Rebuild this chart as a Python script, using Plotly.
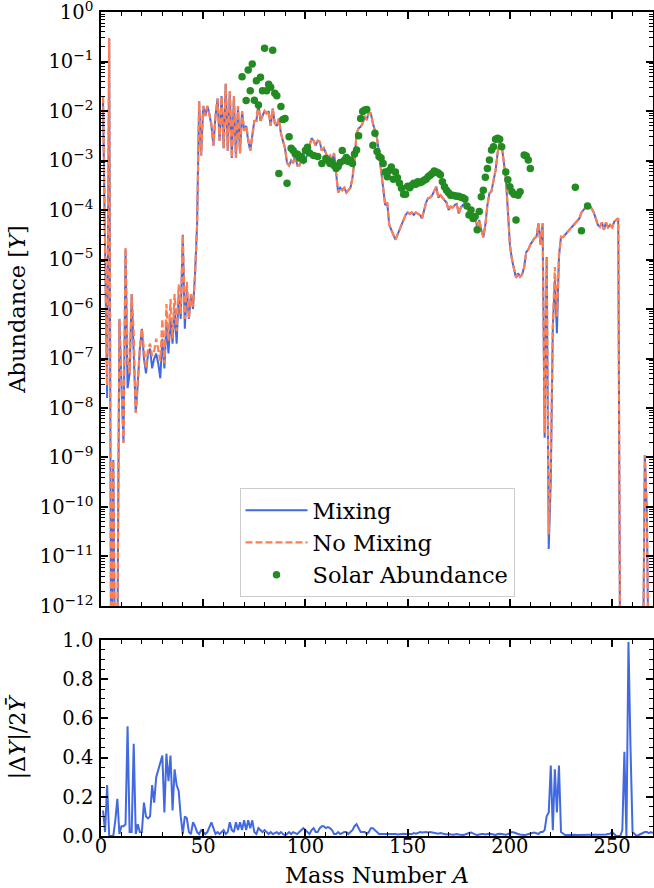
import plotly.graph_objects as go

# ---------------- data ----------------
# log10 of abundance Y with mixing, for A = 1 .. 270
mix_log10 = [
    -1.8, -5.0, -7.8, -0.53, -14, -9.05, -14, -13, -6.2, -7.5,          # 1-10
    -8.7, -4.8, -7.6, -7.3, -5.7, -6.9, -8.1, -7.5, -6.8, -6.4,         # 11-20
    -7.0, -7.3, -6.9, -6.8, -7.2, -7.0, -6.9, -7.1, -7.4, -6.6,         # 21-30
    -7.2, -6.3, -6.9, -6.2, -6.7, -6.0, -6.7, -5.7, -6.2, -4.5,         # 31-40
    -6.4, -5.6, -6.2, -5.7, -6.0, -5.3, -4.3, -1.8, -2.9, -1.9,         # 41-50
    -2.1, -1.9, -2.05, -2.3, -2.7, -2.1, -1.75, -2.6, -1.7, -2.75,      # 51-60
    -1.45, -2.8, -1.6, -2.95, -1.7, -2.95, -1.9, -2.85, -2.0, -2.4,     # 61-70
    -2.3, -2.6, -2.8, -2.5, -2.2, -2.2, -1.85, -2.2, -2.1, -2.0,        # 71-80
    -2.05, -2.0, -2.3, -1.95, -2.25, -2.3, -2.15, -2.45, -2.6, -2.75,   # 81-90
    -3.05, -3.1, -3.0, -3.05, -2.9, -3.1, -3.1, -3.0, -3.05, -3.0,      # 91-100
    -2.85, -2.7, -2.55, -2.6, -2.7, -2.6, -2.62, -2.8, -2.75, -2.85,    # 101-110
    -2.95, -2.9, -3.0, -2.85, -3.2, -3.65, -3.55, -3.6, -3.55, -3.65,   # 111-120
    -3.6, -3.55, -3.35, -3.0, -2.45, -2.35, -2.32, -2.25, -2.1, -2.18,  # 121-130
    -2.03, -2.05, -2.25, -2.4, -2.55, -2.85, -3.2, -3.55, -3.9, -3.85,  # 131-140
    -4.3, -4.4, -4.5, -4.6, -4.5, -4.4, -4.3, -4.2, -4.1, -4.05,        # 141-150
    -4.08, -4.05, -4.1, -4.05, -4.08, -4.1, -4.17, -4.0, -3.85, -3.76,  # 151-160
    -3.75, -3.7, -3.63, -3.53, -3.75, -3.7, -3.75, -3.8, -3.85, -4.0,   # 161-170
    -3.93, -3.95, -3.9, -3.88, -4.07, -3.95, -3.9, -3.85, -3.9, -4.0,   # 171-180
    -4.05, -4.1, -4.15, -4.35, -4.2, -4.4, -4.55, -4.3, -3.9, -3.66,    # 181-190
    -3.62, -3.4, -3.2, -2.85, -2.6, -2.7, -3.0, -3.35, -4.0, -4.7,      # 191-200
    -5.0, -5.2, -5.37, -5.28, -5.35, -5.3, -5.15, -4.85, -4.8, -4.7,    # 201-210
    -4.62, -4.57, -4.54, -4.27, -4.7, -4.27, -8.6, -4.95, -10.85, -9.45,  # 211-220
    -6.36, -5.41, -6.49, -4.94, -4.54, -4.55, -4.5, -4.45, -4.4, -4.36,   # 221-230
    -4.32, -4.25, -4.2, -4.17, -4.05, -4.0, -3.93, -3.9, -3.9, -3.97,   # 231-240
    -4.05, -4.17, -4.3, -4.34, -4.25, -4.4, -4.25, -4.35, -4.3, -4.35,  # 241-250
    -4.24, -4.2, -4.17, -14, -14, -14, -14, -14, -14, -14,              # 251-260
    -14, -14, -14, -14, -14, -8.95, -10.1, -14, -14, -14,               # 261-270
]

# no-mixing run: identical except at these mass numbers
nomix_A_changed = [1, 3, 8, 12, 13, 16, 18, 21, 22, 23, 24, 25, 26, 27, 28, 29, 30,
                   31, 32, 33, 34, 35, 36, 37, 38, 39, 41, 42, 45, 54,
                   217, 219, 220, 222, 223, 224]
nomix_log10_changed = [-1.7, -7.55, -12.6, -4.75, -7.05, -6.5, -7.45, -6.85, -7.2, -6.8,
                       -6.7, -6.95, -6.85, -6.6, -6.8, -7.05, -6.2,
                       -7.1, -5.9, -6.65, -5.8, -6.6, -5.7, -6.45, -5.5, -6.1, -6.2,
                       -5.45, -5.95, -2.25,
                       -8.5, -10.55, -9.15, -5.15, -6.15, -4.9]

# |dY| / 2 Ybar for A = 1 .. 270
rel_diff = [
    0.13, 0.02, 0.26, 0.0, 0.0, 0.0, 0.08, 0.19, 0.01, 0.05,            # 1-10
    0.05, 0.06, 0.56, 0.02, 0.02, 0.47, 0.01, 0.06, 0.02, 0.02,         # 11-20
    0.17, 0.10, 0.09, 0.10, 0.26, 0.17, 0.30, 0.34, 0.38, 0.41,         # 21-30
    0.12, 0.42, 0.28, 0.41, 0.13, 0.34, 0.26, 0.23, 0.10, 0.01,         # 31-40
    0.10, 0.09, 0.02, 0.01, 0.07, 0.05, 0.02, 0.01, 0.03, 0.02,         # 41-50
    0.01, 0.02, 0.05, 0.07, 0.04, 0.01, 0.02, 0.01, 0.02, 0.03,         # 51-60
    0.01, 0.02, 0.07, 0.03, 0.02, 0.07, 0.03, 0.07, 0.03, 0.08,         # 61-70
    0.03, 0.08, 0.04, 0.08, 0.02, 0.01, 0.04, 0.03, 0.02, 0.03,         # 71-80
    0.02, 0.01, 0.02, 0.01, 0.015, 0.02, 0.01, 0.02, 0.01, 0.005,       # 81-90
    0.01, 0.02, 0.01, 0.02, 0.015, 0.01, 0.02, 0.03, 0.04, 0.03,        # 91-100
    0.02, 0.01, 0.03, 0.04, 0.02, 0.02, 0.04, 0.05, 0.05, 0.04,         # 101-110
    0.045, 0.04, 0.03, 0.01, 0.01, 0.02, 0.01, 0.015, 0.02, 0.02,       # 111-120
    0.01, 0.02, 0.03, 0.05, 0.06, 0.04, 0.02, 0.02, 0.02, 0.01,         # 121-130
    0.02, 0.04, 0.04, 0.03, 0.02, 0.01, 0.01, 0.01, 0.01, 0.01,         # 131-140
    0.01, 0.01, 0.012, 0.01, 0.008, 0.01, 0.01, 0.012, 0.01, 0.01,      # 141-150
    0.012, 0.01, 0.015, 0.012, 0.015, 0.02, 0.018, 0.02, 0.02, 0.018,   # 151-160
    0.02, 0.018, 0.015, 0.015, 0.012, 0.015, 0.012, 0.01, 0.008, 0.01,  # 161-170
    0.008, 0.006, 0.008, 0.01, 0.008, 0.006, 0.005, 0.008, 0.01, 0.015, # 171-180
    0.018, 0.012, 0.008, 0.005, 0.008, 0.01, 0.01, 0.008, 0.01, 0.012,  # 181-190
    0.01, 0.008, 0.005, 0.01, 0.012, 0.01, 0.008, 0.006, 0.01, 0.015,   # 191-200
    0.02, 0.018, 0.012, 0.01, 0.008, 0.005, 0.005, 0.006, 0.008, 0.01,  # 201-210
    0.015, 0.018, 0.012, 0.01, 0.02, 0.02, 0.03, 0.10, 0.12, 0.36,      # 211-220
    0.03, 0.34, 0.12, 0.36, 0.02, 0.01, 0.005, 0.005, 0.006, 0.005,     # 221-230
    0.005, 0.006, 0.005, 0.005, 0.006, 0.005, 0.005, 0.005, 0.006, 0.005, # 231-240
    0.005, 0.005, 0.006, 0.005, 0.005, 0.006, 0.008, 0.01, 0.012, 0.02, # 241-250
    0.01, 0.0, 0.0, 0.0, 0.03, 0.43, 0.0, 0.99, 0.45, 0.02,             # 251-260
    0.01, 0.0, 0.005, 0.01, 0.015, 0.02, 0.02, 0.015, 0.02, 0.015,      # 261-270
]

# solar abundances (mass number, log10 Y)
solar_A = [69, 71, 72, 73, 74, 75, 76, 77, 78, 79, 80, 81, 82, 83, 84, 85, 86, 87, 88, 89, 90,
           91, 92, 93, 94, 95, 96, 97, 98, 99, 100, 101, 102, 104, 106, 108, 110,
           111, 112, 113, 114, 115, 116, 117, 118, 119, 120, 121, 122, 123, 124,
           125, 126, 127, 128, 129, 130, 133, 134, 135, 136, 137, 138, 139, 140,
           141, 142, 143, 144, 145, 146, 147, 148, 149, 150, 151, 152, 153, 154,
           155, 156, 157, 158, 159, 160, 161, 162, 163, 164, 165, 166, 167, 168,
           169, 170, 171, 172, 173, 174, 175, 176, 177, 178, 179, 180, 181, 182,
           183, 184, 185, 186, 187, 188, 189, 190, 191, 192, 193, 194, 195, 196,
           198, 199, 200, 201, 202, 203, 204, 205, 207, 208, 209, 210, 232, 235, 238]
solar_log10 = [-1.31, -1.79, -1.17, -1.59, -1.05, -1.78, -1.39, -1.88, -1.32, -1.59, -0.73,
               -1.59, -1.46, -1.52, -0.77, -1.64, -1.69, -3.26, -1.91, -2.17, -2.15,
               -3.46, -2.52, -2.75, -2.80, -2.87, -2.87, -2.95, -2.92, -2.99, -2.80,
               -2.73, -2.85, -2.9, -2.92, -3.06, -2.96,
               -3.0, -3.06, -3.03, -3.1, -3.16, -3.12, -3.04, -2.80, -3.0, -2.94,
               -3.02, -2.99, -3.06, -2.87,
               -2.79, -2.5, -2.15, -2.01, -1.98, -1.97, -2.69, -2.45, -2.82, -2.92,
               -2.95, -3.06, -3.23, -3.33,
               -3.2, -3.13, -3.38, -3.23, -3.35, -3.46, -3.56, -3.68, -3.68, -3.52,
               -3.55, -3.50, -3.46, -3.48,
               -3.43, -3.45, -3.43, -3.40, -3.38, -3.33, -3.30, -3.26, -3.21, -3.23,
               -3.25, -3.29, -3.43, -3.53,
               -3.60, -3.65, -3.70, -3.70, -3.71, -3.72, -3.72, -3.74, -3.75, -3.78,
               -3.92, -4.10, -4.0, -4.17,
               -4.13, -4.40, -4.03, -3.73, -3.60, -3.34, -3.16, -2.99, -2.79, -2.72,
               -2.57, -2.55, -2.57, -2.72,
               -3.23, -3.39, -3.53, -3.63, -3.68, -4.20, -3.70, -3.63, -2.89, -2.91,
               -2.99, -3.16, -3.54, -4.42, -3.92]

ytick_exponents = list(range(-12, 1))

# ---------------- build series ----------------
mass_number = list(range(1, len(mix_log10) + 1))
Y_mix = [10.0 ** v for v in mix_log10]
nomix_log10 = list(mix_log10)
for a, v in zip(nomix_A_changed, nomix_log10_changed):
    nomix_log10[a - 1] = v
Y_nomix = [10.0 ** v for v in nomix_log10]
Y_solar = [10.0 ** v for v in solar_log10]
rel_A = list(range(1, len(rel_diff) + 1))

FONT = "DejaVu Serif"
BLUE = "#4169E1"
ORANGE = "#FF7F50"
GREEN = "#228B22"
TICK_FS = 19.5
TITLE_FS = 22.5

fig = go.Figure()
fig.add_trace(go.Scatter(x=mass_number, y=Y_mix, mode="lines", name="Mixing",
                         line=dict(color=BLUE, width=2), legendgroup="a",
                         xaxis="x", yaxis="y"))
fig.add_trace(go.Scatter(x=mass_number, y=Y_nomix, mode="lines", name="No Mixing",
                         line=dict(color=ORANGE, width=2.2, dash="7px,3px"), legendgroup="b",
                         xaxis="x", yaxis="y"))
fig.add_trace(go.Scatter(x=solar_A, y=Y_solar, mode="markers", name="Solar Abundance",
                         marker=dict(color=GREEN, size=7.5), legendgroup="c",
                         xaxis="x", yaxis="y"))
fig.add_trace(go.Scatter(x=rel_A, y=rel_diff, mode="lines", showlegend=False,
                         line=dict(color=BLUE, width=2), xaxis="x2", yaxis="y2"))

axis_common = dict(showline=True, linecolor="black", linewidth=1.5, mirror="allticks",
                   ticks="inside", ticklen=7, tickwidth=1.5, tickcolor="black",
                   showgrid=False, zeroline=False, automargin=False,
                   ticklabeloverflow="allow",
                   tickfont=dict(family=FONT, size=TICK_FS, color="black"))

top_dom = [(836 - 606) / 824, 1.0]
bot_dom = [0.0, (836 - 640) / 824]

fig.update_layout(
    width=654, height=888,
    margin=dict(l=101, r=1, t=12, b=52),
    plot_bgcolor="white", paper_bgcolor="white",
    font=dict(family=FONT, size=TICK_FS, color="black"),
    xaxis=dict(axis_common, anchor="y", range=[0, 270], dtick=50, tick0=0,
               showticklabels=False, domain=[0, 1],
               minor=dict(ticks="inside", dtick=10, ticklen=4, tickwidth=1, tickcolor="black")),
    yaxis=dict(axis_common, type="log", range=[-12.0005, 0.0005], domain=top_dom,
               tickmode="array", ticklabelstandoff=2,
               tickvals=[10.0 ** e for e in ytick_exponents],
               ticktext=["10<sup>%s</sup>" % (str(e).replace("-", "\u2212")) for e in ytick_exponents],
               minor=dict(ticks="inside", dtick="D1", ticklen=4, tickwidth=1, tickcolor="black"),
               title=dict(text="Abundance [<i>Y</i>]", font=dict(family=FONT, size=TITLE_FS), standoff=8)),
    xaxis2=dict(axis_common, anchor="y2", range=[0, 270], dtick=50, tick0=0,
                matches="x", domain=[0, 1], ticklabelstandoff=-8,
                minor=dict(ticks="inside", dtick=10, ticklen=4, tickwidth=1, tickcolor="black"),
                title=dict(text="Mass Number <i>A</i>", font=dict(family=FONT, size=TITLE_FS), standoff=11)),
    yaxis2=dict(axis_common, range=[0, 1.0], dtick=0.2, tick0=0, tickformat=".1f",
                domain=bot_dom, ticklabelstandoff=2,
                minor=dict(ticks="inside", dtick=0.05, ticklen=4, tickwidth=1, tickcolor="black"),
                title=dict(text="|\u0394<i>Y</i>|/2<i>\u0232</i>", font=dict(family=FONT, size=TITLE_FS), standoff=30)),
    legend=dict(x=0.5, xanchor="center", y=(836 - 597) / 824, yanchor="bottom",
                bgcolor="rgba(255,255,255,0.85)", bordercolor="#cccccc", borderwidth=1,
                font=dict(family=FONT, size=22.5), tracegroupgap=0, itemwidth=62),
)

fig.write_html("out.html", config={"displayModeBar": False},
               post_script="document.body.style.margin='0';document.body.style.padding='0';")
